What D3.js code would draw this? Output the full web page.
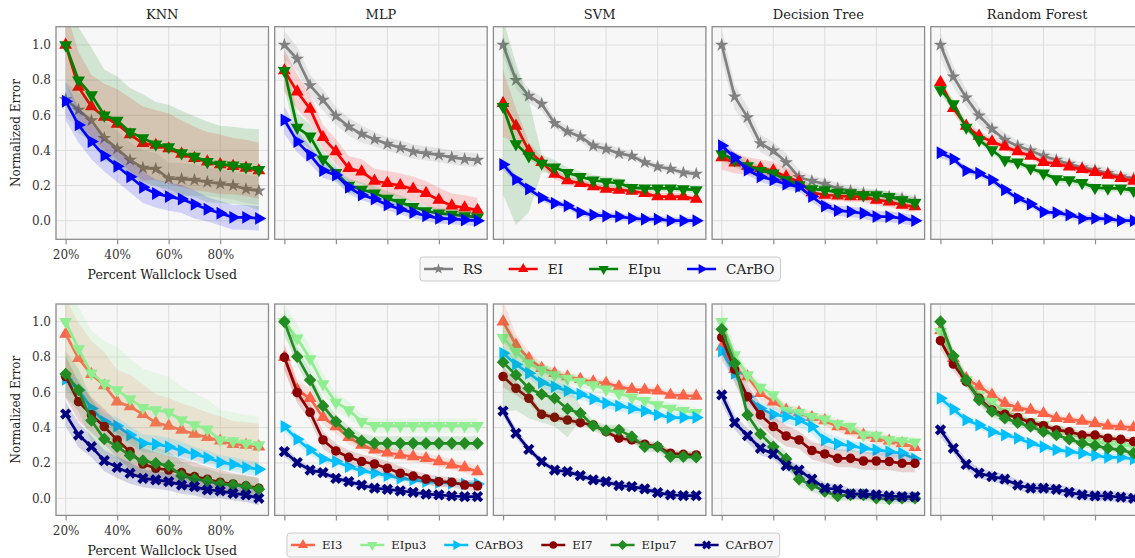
<!DOCTYPE html>
<html>
<head>
<meta charset="utf-8">
<script src="https://cdn.jsdelivr.net/npm/d3@7"></script>
<style>
  body { margin: 0; background: #fff; }
  text { font-family: "DejaVu Serif", serif; }
</style>
</head>
<body>
<svg id="chart" width="1135" height="558"></svg>
<script>
var pct = [20, 25, 30, 35, 40, 45, 50, 55, 60, 65, 70, 75, 80, 85, 90, 95];
var models = ["KNN", "MLP", "SVM", "Decision Tree", "Random Forest"];
var xTicks = [20, 40, 60, 80];
var yTicks = [0, 0.2, 0.4, 0.6, 0.8, 1.0];

var topMethods = ["RS", "EI", "EIpu", "CArBO"];
var topColors = ["#808080", "#ff0000", "#008000", "#0000ff"];
var topMarkers = ["star", "up", "down", "right"];

var bottomMethods = ["EI3", "EIpu3", "CArBO3", "EI7", "EIpu7", "CArBO7"];
var bottomColors = ["#ff6347", "#90ee90", "#00bfff", "#8b0000", "#228b22", "#000080"];
var bottomMarkers = ["up", "down", "right", "circle", "diamond", "x"];

// top row: one row per method (RS, EI, EIpu, CArBO), values at each pct
var knnTop = [
  [0.69, 0.63, 0.57, 0.47, 0.41, 0.345, 0.30, 0.295, 0.24, 0.237, 0.232, 0.22, 0.21, 0.20, 0.18, 0.17],
  [1.0, 0.76, 0.65, 0.59, 0.55, 0.49, 0.44, 0.43, 0.41, 0.38, 0.355, 0.335, 0.32, 0.31, 0.30, 0.285],
  [1.0, 0.80, 0.715, 0.60, 0.57, 0.505, 0.47, 0.435, 0.42, 0.385, 0.365, 0.335, 0.32, 0.315, 0.305, 0.29],
  [0.68, 0.545, 0.45, 0.37, 0.31, 0.25, 0.19, 0.155, 0.137, 0.123, 0.093, 0.065, 0.042, 0.019, 0.019, 0.013]
];
var knnTopSd = [
  [0.1, 0.1, 0.1, 0.1, 0.1, 0.1, 0.1, 0.09, 0.09, 0.09, 0.09, 0.08, 0.08, 0.08, 0.08, 0.08],
  [0.2, 0.2, 0.18, 0.19, 0.2, 0.21, 0.21, 0.2, 0.2, 0.19, 0.18, 0.17, 0.17, 0.16, 0.16, 0.16],
  [0.3, 0.3, 0.27, 0.26, 0.25, 0.25, 0.25, 0.24, 0.24, 0.24, 0.23, 0.23, 0.22, 0.22, 0.22, 0.23],
  [0.11, 0.1, 0.1, 0.09, 0.09, 0.09, 0.09, 0.08, 0.08, 0.08, 0.08, 0.07, 0.07, 0.07, 0.07, 0.07]
];
var mlpTop = [
  [1.0, 0.92, 0.77, 0.687, 0.596, 0.535, 0.493, 0.463, 0.436, 0.416, 0.393, 0.383, 0.374, 0.36, 0.35, 0.345],
  [0.854, 0.734, 0.636, 0.474, 0.393, 0.298, 0.279, 0.226, 0.213, 0.20, 0.18, 0.156, 0.118, 0.085, 0.074, 0.06],
  [0.854, 0.53, 0.48, 0.35, 0.273, 0.20, 0.178, 0.156, 0.127, 0.104, 0.08, 0.055, 0.042, 0.036, 0.027, 0.02],
  [0.573, 0.45, 0.374, 0.285, 0.26, 0.19, 0.146, 0.123, 0.089, 0.065, 0.046, 0.028, 0.013, 0.01, 0.004, 0.0]
];
var mlpTopSd = [
  [0.08, 0.07, 0.06, 0.06, 0.05, 0.05, 0.05, 0.04, 0.04, 0.04, 0.04, 0.04, 0.04, 0.04, 0.04, 0.04],
  [0.12, 0.1, 0.08, 0.07, 0.07, 0.07, 0.07, 0.07, 0.07, 0.07, 0.07, 0.07, 0.07, 0.07, 0.07, 0.07],
  [0.1, 0.08, 0.07, 0.05, 0.04, 0.04, 0.04, 0.04, 0.04, 0.04, 0.03, 0.03, 0.03, 0.03, 0.03, 0.03],
  [0.08, 0.06, 0.05, 0.04, 0.04, 0.04, 0.03, 0.03, 0.03, 0.03, 0.03, 0.03, 0.03, 0.03, 0.03, 0.03]
];
var svmTop = [
  [1.0, 0.80, 0.71, 0.664, 0.554, 0.507, 0.478, 0.427, 0.408, 0.383, 0.368, 0.332, 0.307, 0.294, 0.273, 0.266],
  [0.668, 0.539, 0.398, 0.332, 0.266, 0.228, 0.213, 0.194, 0.18, 0.175, 0.169, 0.156, 0.137, 0.137, 0.137, 0.123],
  [0.649, 0.436, 0.368, 0.326, 0.304, 0.273, 0.25, 0.23, 0.22, 0.213, 0.188, 0.184, 0.184, 0.184, 0.18, 0.175],
  [0.32, 0.235, 0.18, 0.131, 0.099, 0.085, 0.046, 0.032, 0.027, 0.023, 0.013, 0.008, 0.008, 0.0, 0.0, 0.0]
];
var svmTopSd = [
  [0.06, 0.05, 0.04, 0.04, 0.03, 0.03, 0.03, 0.03, 0.03, 0.03, 0.02, 0.02, 0.02, 0.02, 0.02, 0.02],
  [0.19, 0.1, 0.05, 0.03, 0.03, 0.02, 0.02, 0.02, 0.02, 0.02, 0.02, 0.02, 0.02, 0.02, 0.02, 0.02],
  [0.5, 0.46, 0.32, 0.05, 0.04, 0.03, 0.03, 0.03, 0.03, 0.03, 0.02, 0.02, 0.02, 0.02, 0.02, 0.02],
  [0.03, 0.02, 0.02, 0.02, 0.02, 0.02, 0.02, 0.02, 0.02, 0.02, 0.02, 0.02, 0.02, 0.02, 0.02, 0.02]
];
var dtTop = [
  [1.0, 0.706, 0.588, 0.44, 0.398, 0.332, 0.247, 0.226, 0.209, 0.184, 0.169, 0.156, 0.146, 0.137, 0.127, 0.112],
  [0.36, 0.33, 0.311, 0.298, 0.285, 0.25, 0.222, 0.16, 0.146, 0.142, 0.137, 0.137, 0.118, 0.108, 0.089, 0.08],
  [0.38, 0.345, 0.311, 0.285, 0.27, 0.232, 0.203, 0.18, 0.175, 0.161, 0.156, 0.146, 0.146, 0.137, 0.118, 0.102],
  [0.427, 0.359, 0.288, 0.25, 0.232, 0.207, 0.194, 0.137, 0.083, 0.057, 0.051, 0.042, 0.023, 0.023, 0.013, 0.0]
];
var dtTopSd = [
  [0.09, 0.07, 0.06, 0.05, 0.05, 0.05, 0.04, 0.03, 0.03, 0.03, 0.03, 0.03, 0.03, 0.03, 0.03, 0.03],
  [0.07, 0.06, 0.05, 0.05, 0.05, 0.05, 0.04, 0.03, 0.03, 0.03, 0.03, 0.03, 0.03, 0.03, 0.03, 0.03],
  [0.04, 0.04, 0.04, 0.03, 0.03, 0.03, 0.03, 0.03, 0.03, 0.03, 0.03, 0.03, 0.03, 0.03, 0.03, 0.03],
  [0.04, 0.03, 0.03, 0.03, 0.03, 0.03, 0.03, 0.03, 0.03, 0.03, 0.03, 0.03, 0.03, 0.03, 0.03, 0.03]
];
var rfTop = [
  [1.0, 0.82, 0.70, 0.598, 0.522, 0.459, 0.425, 0.398, 0.368, 0.345, 0.323, 0.302, 0.288, 0.27, 0.25, 0.24],
  [0.787, 0.64, 0.539, 0.482, 0.45, 0.421, 0.393, 0.368, 0.332, 0.326, 0.307, 0.292, 0.275, 0.26, 0.241, 0.226],
  [0.744, 0.664, 0.531, 0.459, 0.402, 0.345, 0.332, 0.298, 0.27, 0.237, 0.232, 0.216, 0.188, 0.184, 0.184, 0.171],
  [0.387, 0.351, 0.285, 0.27, 0.232, 0.175, 0.127, 0.095, 0.049, 0.046, 0.032, 0.013, 0.013, 0.01, 0.0, 0.0]
];
var rfTopSd = [
  [0.07, 0.06, 0.05, 0.05, 0.04, 0.04, 0.03, 0.03, 0.03, 0.03, 0.03, 0.03, 0.03, 0.03, 0.03, 0.03],
  [0.04, 0.03, 0.03, 0.03, 0.02, 0.02, 0.02, 0.02, 0.02, 0.02, 0.02, 0.02, 0.02, 0.02, 0.02, 0.02],
  [0.03, 0.03, 0.02, 0.02, 0.02, 0.02, 0.02, 0.02, 0.02, 0.02, 0.02, 0.02, 0.02, 0.02, 0.02, 0.02],
  [0.03, 0.02, 0.02, 0.02, 0.02, 0.02, 0.02, 0.02, 0.02, 0.02, 0.02, 0.02, 0.02, 0.02, 0.02, 0.02]
];

// bottom row: EI3, EIpu3, CArBO3, EI7, EIpu7, CArBO7
var knnBot = [
  [0.93, 0.792, 0.702, 0.638, 0.547, 0.519, 0.475, 0.428, 0.409, 0.387, 0.364, 0.345, 0.325, 0.306, 0.302, 0.292],
  [1.0, 0.845, 0.708, 0.651, 0.613, 0.562, 0.513, 0.50, 0.487, 0.443, 0.415, 0.391, 0.33, 0.325, 0.311, 0.302],
  [0.674, 0.613, 0.509, 0.434, 0.409, 0.358, 0.311, 0.306, 0.292, 0.27, 0.251, 0.23, 0.204, 0.192, 0.175, 0.164],
  [0.689, 0.547, 0.472, 0.406, 0.33, 0.264, 0.194, 0.17, 0.16, 0.145, 0.123, 0.108, 0.091, 0.081, 0.07, 0.057],
  [0.704, 0.613, 0.44, 0.336, 0.292, 0.242, 0.213, 0.198, 0.185, 0.128, 0.109, 0.098, 0.081, 0.075, 0.066, 0.051],
  [0.477, 0.358, 0.292, 0.213, 0.175, 0.142, 0.113, 0.104, 0.094, 0.075, 0.066, 0.047, 0.042, 0.028, 0.019, 0.0]
];
var knnBotSd = [
  [0.2, 0.2, 0.19, 0.19, 0.18, 0.18, 0.17, 0.16, 0.16, 0.15, 0.15, 0.14, 0.14, 0.13, 0.13, 0.13],
  [0.24, 0.24, 0.24, 0.24, 0.24, 0.23, 0.22, 0.21, 0.2, 0.19, 0.18, 0.17, 0.17, 0.16, 0.16, 0.16],
  [0.06, 0.06, 0.05, 0.05, 0.05, 0.05, 0.05, 0.05, 0.05, 0.05, 0.04, 0.04, 0.04, 0.04, 0.04, 0.04],
  [0.12, 0.11, 0.1, 0.1, 0.1, 0.1, 0.09, 0.09, 0.08, 0.08, 0.08, 0.07, 0.07, 0.06, 0.06, 0.06],
  [0.13, 0.12, 0.12, 0.11, 0.1, 0.1, 0.09, 0.09, 0.08, 0.08, 0.07, 0.07, 0.06, 0.06, 0.06, 0.06],
  [0.07, 0.07, 0.06, 0.06, 0.06, 0.06, 0.05, 0.05, 0.05, 0.05, 0.05, 0.05, 0.04, 0.04, 0.04, 0.04]
];
var mlpBot = [
  [0.798, 0.613, 0.566, 0.458, 0.406, 0.345, 0.302, 0.274, 0.258, 0.245, 0.236, 0.226, 0.208, 0.189, 0.174, 0.151],
  [1.0, 0.906, 0.789, 0.647, 0.543, 0.50, 0.434, 0.411, 0.411, 0.411, 0.411, 0.411, 0.411, 0.411, 0.411, 0.411],
  [0.406, 0.334, 0.274, 0.223, 0.208, 0.179, 0.155, 0.142, 0.128, 0.113, 0.104, 0.094, 0.089, 0.085, 0.081, 0.081],
  [0.798, 0.598, 0.487, 0.33, 0.268, 0.232, 0.208, 0.194, 0.17, 0.142, 0.126, 0.109, 0.094, 0.091, 0.075, 0.07],
  [1.0, 0.802, 0.67, 0.523, 0.434, 0.368, 0.325, 0.311, 0.311, 0.311, 0.311, 0.311, 0.311, 0.311, 0.311, 0.311],
  [0.264, 0.202, 0.16, 0.145, 0.113, 0.094, 0.075, 0.057, 0.051, 0.042, 0.034, 0.023, 0.019, 0.013, 0.009, 0.009]
];
var mlpBotSd = [
  [0.08, 0.06, 0.05, 0.04, 0.04, 0.04, 0.03, 0.03, 0.03, 0.03, 0.03, 0.03, 0.03, 0.03, 0.03, 0.03],
  [0.1, 0.08, 0.07, 0.06, 0.05, 0.05, 0.04, 0.04, 0.04, 0.04, 0.04, 0.04, 0.04, 0.04, 0.04, 0.04],
  [0.03, 0.03, 0.03, 0.02, 0.02, 0.02, 0.02, 0.02, 0.02, 0.02, 0.02, 0.02, 0.02, 0.02, 0.02, 0.02],
  [0.07, 0.06, 0.05, 0.05, 0.04, 0.04, 0.04, 0.04, 0.04, 0.04, 0.03, 0.03, 0.03, 0.03, 0.03, 0.03],
  [0.07, 0.05, 0.05, 0.04, 0.04, 0.04, 0.04, 0.04, 0.04, 0.04, 0.04, 0.04, 0.04, 0.04, 0.04, 0.04],
  [0.03, 0.02, 0.02, 0.02, 0.02, 0.02, 0.02, 0.02, 0.02, 0.02, 0.02, 0.02, 0.02, 0.02, 0.02, 0.02]
];
var svmBot = [
  [1.0, 0.868, 0.792, 0.736, 0.708, 0.689, 0.674, 0.66, 0.651, 0.632, 0.617, 0.613, 0.608, 0.585, 0.581, 0.579],
  [0.909, 0.83, 0.764, 0.726, 0.698, 0.679, 0.66, 0.642, 0.617, 0.594, 0.572, 0.553, 0.528, 0.509, 0.496, 0.485],
  [0.821, 0.758, 0.708, 0.655, 0.632, 0.608, 0.589, 0.562, 0.538, 0.523, 0.509, 0.494, 0.472, 0.457, 0.457, 0.457],
  [0.689, 0.623, 0.566, 0.475, 0.458, 0.443, 0.428, 0.415, 0.377, 0.34, 0.33, 0.306, 0.292, 0.255, 0.249, 0.245],
  [0.77, 0.698, 0.623, 0.589, 0.566, 0.506, 0.481, 0.411, 0.383, 0.387, 0.349, 0.292, 0.292, 0.236, 0.236, 0.232],
  [0.494, 0.368, 0.277, 0.208, 0.16, 0.151, 0.128, 0.104, 0.094, 0.072, 0.066, 0.053, 0.032, 0.019, 0.015, 0.015]
];
var svmBotSd = [
  [0.12, 0.06, 0.04, 0.03, 0.03, 0.02, 0.02, 0.02, 0.02, 0.02, 0.02, 0.02, 0.02, 0.02, 0.02, 0.02],
  [0.08, 0.05, 0.04, 0.04, 0.03, 0.03, 0.03, 0.03, 0.03, 0.03, 0.03, 0.03, 0.03, 0.03, 0.03, 0.03],
  [0.04, 0.03, 0.03, 0.03, 0.03, 0.03, 0.03, 0.03, 0.03, 0.03, 0.03, 0.02, 0.02, 0.02, 0.02, 0.02],
  [0.06, 0.04, 0.03, 0.02, 0.02, 0.02, 0.02, 0.02, 0.02, 0.02, 0.02, 0.02, 0.02, 0.02, 0.02, 0.02],
  [0.28, 0.2, 0.17, 0.16, 0.16, 0.16, 0.04, 0.03, 0.03, 0.03, 0.03, 0.03, 0.03, 0.03, 0.03, 0.03],
  [0.03, 0.03, 0.02, 0.02, 0.02, 0.02, 0.02, 0.02, 0.02, 0.02, 0.02, 0.02, 0.02, 0.02, 0.02, 0.02]
];
var dtBot = [
  [0.858, 0.73, 0.689, 0.594, 0.547, 0.50, 0.485, 0.458, 0.44, 0.406, 0.383, 0.358, 0.34, 0.325, 0.311, 0.289],
  [1.0, 0.811, 0.698, 0.628, 0.585, 0.496, 0.485, 0.462, 0.447, 0.421, 0.406, 0.358, 0.355, 0.33, 0.325, 0.317],
  [0.834, 0.708, 0.575, 0.509, 0.475, 0.462, 0.443, 0.406, 0.33, 0.308, 0.296, 0.283, 0.274, 0.264, 0.255, 0.223],
  [0.911, 0.73, 0.575, 0.472, 0.406, 0.353, 0.33, 0.27, 0.251, 0.226, 0.226, 0.211, 0.211, 0.208, 0.198, 0.198],
  [0.957, 0.764, 0.472, 0.364, 0.292, 0.223, 0.108, 0.075, 0.038, 0.013, 0.019, 0.019, 0.0, -0.004, 0.0, 0.0],
  [0.585, 0.428, 0.355, 0.283, 0.251, 0.185, 0.16, 0.109, 0.057, 0.051, 0.025, 0.025, 0.019, 0.013, 0.009, 0.009]
];
var dtBotSd = [
  [0.08, 0.05, 0.04, 0.04, 0.04, 0.03, 0.03, 0.03, 0.03, 0.03, 0.03, 0.03, 0.03, 0.03, 0.03, 0.03],
  [0.08, 0.05, 0.04, 0.03, 0.03, 0.03, 0.03, 0.03, 0.03, 0.03, 0.03, 0.03, 0.03, 0.03, 0.03, 0.03],
  [0.05, 0.05, 0.04, 0.04, 0.04, 0.04, 0.04, 0.04, 0.04, 0.04, 0.03, 0.03, 0.03, 0.03, 0.03, 0.03],
  [0.09, 0.08, 0.07, 0.06, 0.06, 0.06, 0.05, 0.05, 0.05, 0.05, 0.05, 0.05, 0.05, 0.05, 0.05, 0.05],
  [0.06, 0.05, 0.05, 0.04, 0.04, 0.04, 0.04, 0.04, 0.03, 0.03, 0.03, 0.03, 0.03, 0.03, 0.03, 0.03],
  [0.05, 0.04, 0.04, 0.04, 0.03, 0.03, 0.03, 0.03, 0.03, 0.03, 0.03, 0.03, 0.03, 0.03, 0.03, 0.03]
];
var rfBot = [
  [0.95, 0.792, 0.679, 0.632, 0.585, 0.538, 0.513, 0.50, 0.481, 0.453, 0.447, 0.438, 0.425, 0.411, 0.406, 0.40],
  [0.943, 0.792, 0.67, 0.585, 0.547, 0.491, 0.462, 0.434, 0.415, 0.387, 0.368, 0.34, 0.321, 0.311, 0.302, 0.292],
  [0.566, 0.504, 0.443, 0.415, 0.377, 0.358, 0.34, 0.311, 0.292, 0.274, 0.264, 0.255, 0.242, 0.232, 0.232, 0.223],
  [0.892, 0.76, 0.66, 0.566, 0.50, 0.475, 0.457, 0.428, 0.411, 0.387, 0.377, 0.358, 0.358, 0.34, 0.334, 0.321],
  [1.0, 0.806, 0.67, 0.557, 0.491, 0.453, 0.428, 0.406, 0.377, 0.358, 0.334, 0.311, 0.298, 0.283, 0.274, 0.255],
  [0.387, 0.283, 0.192, 0.142, 0.123, 0.108, 0.075, 0.057, 0.057, 0.051, 0.034, 0.019, 0.013, 0.013, 0.006, 0.0]
];
var rfBotSd = [
  [0.05, 0.04, 0.03, 0.03, 0.03, 0.03, 0.02, 0.02, 0.02, 0.02, 0.02, 0.02, 0.02, 0.02, 0.02, 0.02],
  [0.05, 0.04, 0.03, 0.03, 0.03, 0.03, 0.02, 0.02, 0.02, 0.02, 0.02, 0.02, 0.02, 0.02, 0.02, 0.02],
  [0.03, 0.03, 0.02, 0.02, 0.02, 0.02, 0.02, 0.02, 0.02, 0.02, 0.02, 0.02, 0.02, 0.02, 0.02, 0.02],
  [0.05, 0.04, 0.03, 0.03, 0.03, 0.03, 0.02, 0.02, 0.02, 0.02, 0.02, 0.02, 0.02, 0.02, 0.02, 0.02],
  [0.06, 0.04, 0.03, 0.03, 0.03, 0.03, 0.02, 0.02, 0.02, 0.02, 0.02, 0.02, 0.02, 0.02, 0.02, 0.02],
  [0.04, 0.03, 0.03, 0.03, 0.03, 0.03, 0.03, 0.03, 0.03, 0.03, 0.03, 0.03, 0.03, 0.03, 0.03, 0.03]
];

var topPanels = [[knnTop, knnTopSd], [mlpTop, mlpTopSd], [svmTop, svmTopSd], [dtTop, dtTopSd], [rfTop, rfTopSd]];
var botPanels = [[knnBot, knnBotSd], [mlpBot, mlpBotSd], [svmBot, svmBotSd], [dtBot, dtBotSd], [rfBot, rfBotSd]];

var svg = d3.select("#chart");
var panelLeft = 56, panelW = 212.5, panelStep = 218.7;

function markerPath(kind, size) {
  if (kind == "star") return { d: d3.symbol(d3.symbolStar, size * 0.8)(), rot: 0 };
  if (kind == "up") return { d: d3.symbol(d3.symbolTriangle, size)(), rot: 0 };
  if (kind == "down") return { d: d3.symbol(d3.symbolTriangle, size)(), rot: 180 };
  if (kind == "right") return { d: d3.symbol(d3.symbolTriangle, size)(), rot: 90 };
  if (kind == "circle") return { d: d3.symbol(d3.symbolCircle, size)(), rot: 0 };
  if (kind == "diamond") return { d: d3.symbol(d3.symbolSquare, size * 1.1)(), rot: 45 };
  return { d: d3.symbol(d3.symbolCross, size * 1.1)(), rot: 45 };
}

function drawRow(panels, methods, colors, markers, top, bottom, yDomain, rowId) {
  panels.forEach(function(p, c) {
    var x0 = panelLeft + c * panelStep;
    var x = d3.scaleLinear().domain([16.25, 98.75]).range([x0, x0 + panelW]);
    var y = d3.scaleLinear().domain(yDomain).range([bottom, top]);
    var g = svg.append("g");

    g.append("rect")
      .attr("x", x0).attr("y", top)
      .attr("width", panelW).attr("height", bottom - top)
      .attr("fill", "#f7f7f7");

    var clipId = "clip-" + rowId + "-" + c;
    svg.append("clipPath").attr("id", clipId)
      .append("rect")
      .attr("x", x0).attr("y", top)
      .attr("width", panelW).attr("height", bottom - top);

    // grid
    g.selectAll(".gx").data(xTicks).enter().append("line")
      .attr("x1", function(d) { return x(d); }).attr("x2", function(d) { return x(d); })
      .attr("y1", top).attr("y2", bottom)
      .attr("stroke", "#dddddd").attr("stroke-width", 1);
    g.selectAll(".gy").data(yTicks).enter().append("line")
      .attr("x1", x0).attr("x2", x0 + panelW)
      .attr("y1", function(d) { return y(d); }).attr("y2", function(d) { return y(d); })
      .attr("stroke", "#dddddd").attr("stroke-width", 1);

    var plot = g.append("g").attr("clip-path", "url(#" + clipId + ")");
    var mean = p[0], sd = p[1];

    methods.forEach(function(m, k) {
      var pts = pct.map(function(v, i) { return { x: v, m: mean[k][i], s: sd[k][i] }; });
      var area = d3.area()
        .x(function(d) { return x(d.x); })
        .y0(function(d) { return y(d.m - d.s); })
        .y1(function(d) { return y(d.m + d.s); });
      plot.append("path").datum(pts)
        .attr("d", area)
        .attr("fill", colors[k]).attr("fill-opacity", 0.15);

      var line = d3.line()
        .x(function(d) { return x(d.x); })
        .y(function(d) { return y(d.m); });
      plot.append("path").datum(pts)
        .attr("d", line)
        .attr("fill", "none")
        .attr("stroke", colors[k]).attr("stroke-width", 2.7)
        .attr("stroke-linejoin", "round");

      var mk = markerPath(markers[k], 72);
      plot.selectAll(".mk" + k).data(pts).enter().append("path")
        .attr("d", mk.d)
        .attr("transform", function(d) { return "translate(" + x(d.x) + "," + y(d.m) + ") rotate(" + mk.rot + ")"; })
        .attr("fill", colors[k]);
    });

    g.append("rect")
      .attr("x", x0).attr("y", top)
      .attr("width", panelW).attr("height", bottom - top)
      .attr("fill", "none").attr("stroke", "#8c8c8c").attr("stroke-width", 1.3);

    // axes
    var xAxis = d3.axisBottom(x).tickValues(xTicks).tickSize(5).tickPadding(6)
      .tickFormat(function(d) { return c == 0 ? d + "%" : ""; });
    var ax = g.append("g").attr("transform", "translate(0," + bottom + ")").call(xAxis);
    ax.select(".domain").remove();
    ax.selectAll("line").attr("stroke", "#8c8c8c").attr("stroke-width", 1.2);
    ax.selectAll("text").attr("font-size", 12).attr("fill", "#333")
      .attr("font-family", "DejaVu Serif");

    if (c == 0) {
      var yAxis = d3.axisLeft(y).tickValues(yTicks).tickSize(0).tickPadding(5)
        .tickFormat(d3.format(".1f"));
      var ay = g.append("g").attr("transform", "translate(" + x0 + ",0)").call(yAxis);
      ay.select(".domain").remove();
      ay.selectAll("text").attr("font-size", 12).attr("fill", "#333")
        .attr("font-family", "DejaVu Serif");

      g.append("text")
        .attr("transform", "translate(16," + ((top + bottom) / 2) + ") rotate(-90)")
        .attr("text-anchor", "middle")
        .attr("dominant-baseline", "central")
        .attr("font-size", 12).attr("fill", "#222")
        .text("Normalized Error");
      g.append("text")
        .attr("x", x0 + panelW / 2).attr("y", bottom + 40)
        .attr("text-anchor", "middle")
        .attr("font-size", 12.5).attr("fill", "#222")
        .text("Percent Wallclock Used");
    }
    if (rowId == "top") {
      g.append("text")
        .attr("x", x0 + panelW / 2).attr("y", 19)
        .attr("text-anchor", "middle")
        .attr("font-size", 13).attr("fill", "#222")
        .text(models[c]);
    }
  });
}

function drawLegend(methods, colors, markers, startX, cy, fontSize, handleLen, gap, colGap, boxH) {
  var lg = svg.append("g");
  var box = lg.append("rect");
  var xPos = startX;
  methods.forEach(function(m, k) {
    lg.append("line")
      .attr("x1", xPos).attr("x2", xPos + handleLen)
      .attr("y1", cy).attr("y2", cy)
      .attr("stroke", colors[k]).attr("stroke-width", 2.5);
    var mk = markerPath(markers[k], 45);
    lg.append("path").attr("d", mk.d)
      .attr("transform", "translate(" + (xPos + handleLen / 2) + "," + cy + ") rotate(" + mk.rot + ")")
      .attr("fill", colors[k]);
    var t = lg.append("text")
      .attr("x", xPos + handleLen + gap).attr("y", cy)
      .attr("dominant-baseline", "central")
      .attr("font-size", fontSize).attr("fill", "#222")
      .text(m);
    xPos = xPos + handleLen + gap + t.node().getComputedTextLength() + colGap;
  });
  var endX = xPos - colGap;
  box.attr("x", startX - 4).attr("y", cy - boxH / 2)
    .attr("width", endX - startX + 10).attr("height", boxH)
    .attr("rx", 3)
    .attr("fill", "#f7f7f7").attr("stroke", "#cccccc").attr("stroke-width", 1);
}

drawRow(topPanels, topMethods, topColors, topMarkers, 26.7, 239.3, [-0.106, 1.104], "top");
drawRow(botPanels, bottomMethods, bottomColors, bottomMarkers, 304, 515.4, [-0.097, 1.1], "bot");

drawLegend(topMethods, topColors, topMarkers, 424, 269, 13.7, 29, 10, 26, 24);
drawLegend(bottomMethods, bottomColors, bottomMarkers, 291, 545, 11.5, 24, 7, 18, 24);
</script>
</body>
</html>
